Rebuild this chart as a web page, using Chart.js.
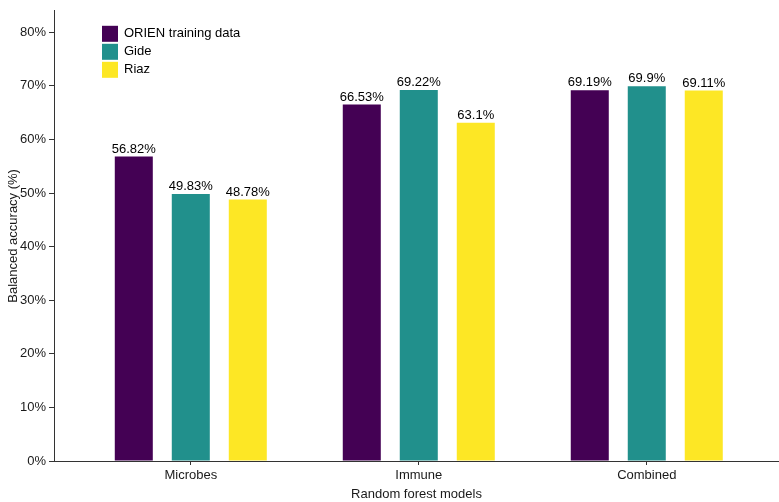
<!DOCTYPE html>
<html>
<head>
<meta charset="utf-8">
<script src="https://cdn.jsdelivr.net/npm/chart.js@4"></script>
<style>
  html, body { margin: 0; padding: 0; background: #fff; }
  #wrap { width: 779px; height: 502px; }
</style>
</head>
<body>
<div id="wrap"><canvas id="accChart" width="779" height="502"></canvas></div>
<script>
const models = ['Microbes', 'Immune', 'Combined'];
const seriesNames = ['ORIEN training data', 'Gide', 'Riaz'];
const orien = [56.82, 66.53, 69.19];
const gide = [49.83, 69.22, 69.9];
const riaz = [48.78, 63.1, 69.11];
const labelText = [
    ['56.82%', '66.53%', '69.19%'],
    ['49.83%', '69.22%', '69.9%'],
    ['48.78%', '63.1%', '69.11%']
];
const colors = ['#440154', '#21908C', '#FDE725'];

Chart.defaults.font.family = "'Liberation Sans', Arial, sans-serif";
Chart.defaults.font.size = 13;
Chart.defaults.color = '#1a1a1a';

const series = [orien, gide, riaz];
const datasets = series.map(function (vals, i) {
    return {
        label: seriesNames[i],
        data: vals.map(function (v, j) { return { x: j, y: v }; }),
        backgroundColor: colors[i],
        borderWidth: 0,
        barPercentage: 0.667,
        categoryPercentage: 0.75
    };
});

// value labels above each bar
const barLabels = {
    id: 'barLabels',
    afterDatasetsDraw(chart) {
        const ctx = chart.ctx;
        ctx.save();
        ctx.font = "13px 'Liberation Sans', Arial, sans-serif";
        ctx.fillStyle = '#000';
        ctx.textAlign = 'center';
        ctx.textBaseline = 'bottom';
        chart.data.datasets.forEach(function (ds, i) {
            chart.getDatasetMeta(i).data.forEach(function (bar, j) {
                ctx.fillText(labelText[i][j], bar.x, bar.y - 1);
            });
        });
        ctx.restore();
    }
};

// legend inside the plot, top left
const insideLegend = {
    id: 'insideLegend',
    afterDraw(chart) {
        const ctx = chart.ctx;
        const left = chart.chartArea.left + 48;
        const top = chart.chartArea.top + 15;
        ctx.save();
        ctx.font = "13px 'Liberation Sans', Arial, sans-serif";
        ctx.textBaseline = 'middle';
        chart.data.datasets.forEach(function (ds, i) {
            const y = top + i * 18;
            ctx.fillStyle = ds.backgroundColor;
            ctx.fillRect(left, y, 16, 16);
            ctx.fillStyle = '#000';
            ctx.fillText(ds.label, left + 22, y + 8);
        });
        ctx.restore();
    }
};

const config = {
    type: 'bar',
    data: { datasets: datasets },
    options: {
        responsive: false,
        animation: false,
        layout: { padding: 0 },
        plugins: {
            legend: { display: false },
            tooltip: { enabled: false }
        },
        scales: {
            x: {
                type: 'linear',
                min: -0.6,
                max: 2.58,
                offset: false,
                afterBuildTicks: function (scale) {
                    scale.ticks = models.map(function (m, i) { return { value: i }; });
                },
                afterFit: function (scale) { scale.height = 41; },
                ticks: {
                    callback: function (v) { return models[v]; },
                    color: '#1a1a1a',
                    padding: 3,
                    maxRotation: 0
                },
                grid: {
                    offset: false,
                    drawOnChartArea: false,
                    tickLength: 4,
                    color: '#333'
                },
                border: { color: '#333', width: 1 },
                title: {
                    display: true,
                    text: 'Random forest models',
                    color: '#1a1a1a',
                    padding: { top: 2, bottom: 0 }
                }
            },
            y: {
                min: 0,
                max: 84,
                afterFit: function (scale) { scale.width = 54; },
                ticks: {
                    stepSize: 10,
                    includeBounds: false,
                    callback: function (v) { return v + '%'; },
                    color: '#1a1a1a',
                    padding: 3
                },
                grid: {
                    drawOnChartArea: false,
                    tickLength: 5,
                    color: '#333'
                },
                border: { color: '#333', width: 1 },
                title: {
                    display: true,
                    text: 'Balanced accuracy (%)',
                    color: '#1a1a1a',
                    padding: { top: 6, bottom: 4 }
                }
            }
        }
    },
    plugins: [barLabels, insideLegend]
};

const accChart = new Chart(document.getElementById('accChart').getContext('2d'), config);
</script>
</body>
</html>
